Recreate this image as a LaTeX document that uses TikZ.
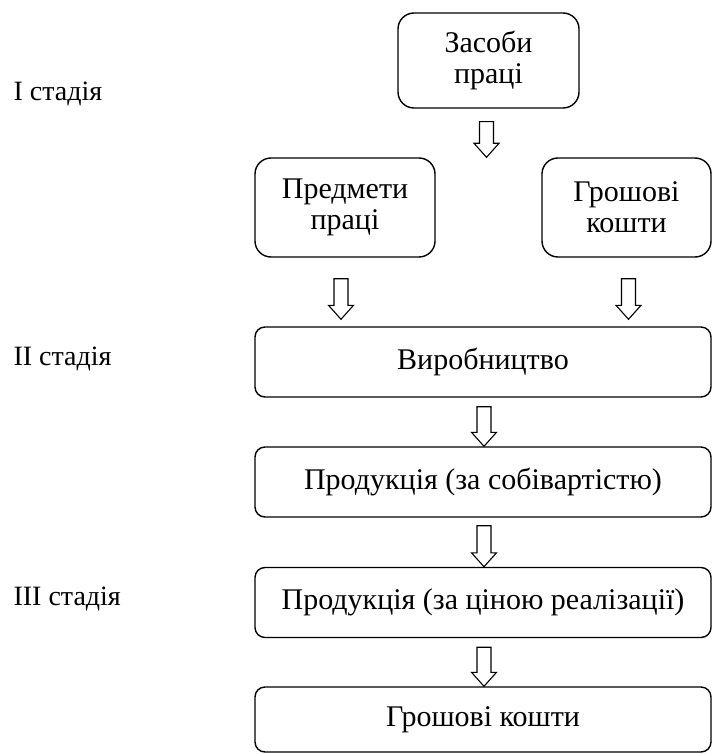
\documentclass[tikz,border=0pt]{standalone}
\usepackage{fontspec}
\setmainfont{Liberation Serif}
\usepackage{tikz}
\usetikzlibrary{calc}
\newcommand{\hollowarrow}[2]{%
    \draw[arrowline] let \p1=(#1), \p2=(#2) in
        (\x1-7pt,\y1) -- (\x1-7pt,\y2+14pt) -- (\x1-12.5pt,\y2+14pt) -- (\x1,\y2)
        -- (\x1+12.5pt,\y2+14pt) -- (\x1+7pt,\y2+14pt) -- (\x1+7pt,\y1) -- cycle;}

\begin{document}
\begin{tikzpicture}[
        x=1pt, y=-1pt,
        font=\fontsize{30}{31}\selectfont,
        stagelabel/.style={anchor=base west, font=\fontsize{28}{30}\selectfont},
        smallbox/.style={draw, line width=1.4pt, rounded corners=16pt, align=center, inner sep=0pt},
        widebox/.style={draw, line width=1.4pt, rounded corners=10pt, align=center, inner sep=0pt,
            minimum width=456pt, minimum height=70pt},
        arrowline/.style={draw, line width=1.1pt, line join=miter}
    ]
        \useasboundingbox (0,0) rectangle (712,754);
        % stages
        \node[stagelabel] (st1) at (10,101) {І стадія};
        \node[stagelabel] (st2) at (10,365) {ІІ стадія};
        \node[stagelabel] (st3) at (10,605) {ІІІ стадія};
        % first stage
        \node[smallbox, minimum width=181pt, minimum height=95pt] (zasoby) at (488.5,60.5) {Засоби\\праці};
        \node[smallbox, minimum width=180pt, minimum height=99pt] (predmety) at (345,207.5) {Предмети\\праці};
        \node[smallbox, minimum width=169pt, minimum height=99pt] (groshi) at (626.5,207.5) {Грошові\\кошти};
        % second and third stage
        \node[widebox] (vyrob) at (483,362) {Виробництво};
        \node[widebox] (sobiv) at (483,482) {Продукція (за собівартістю)};
        \node[widebox] (tsina) at (483,602.5) {Продукція (за ціною реалізації)};
        \node[widebox, minimum height=65pt] (koshty) at (483,719.5) {Грошові кошти};
        % arrows
        \hollowarrow{$(zasoby.south)+(-2,13)$}{$(zasoby.south |- predmety.north)+(-2,0)$}
        \hollowarrow{$(predmety.south)+(-4,21)$}{$(predmety.south |- vyrob.north)+(-4,-7)$}
        \hollowarrow{$(groshi.south)+(2,21)$}{$(groshi.south |- vyrob.north)+(2,-7)$}
        \hollowarrow{$(vyrob.south)+(1,9)$}{$(sobiv.north)+(1,0)$}
        \hollowarrow{$(sobiv.south)+(1,8)$}{$(tsina.north)+(1,0)$}
        \hollowarrow{$(tsina.south)+(1,9)$}{$(koshty.north)+(1,0)$}
\end{tikzpicture}
\end{document}
